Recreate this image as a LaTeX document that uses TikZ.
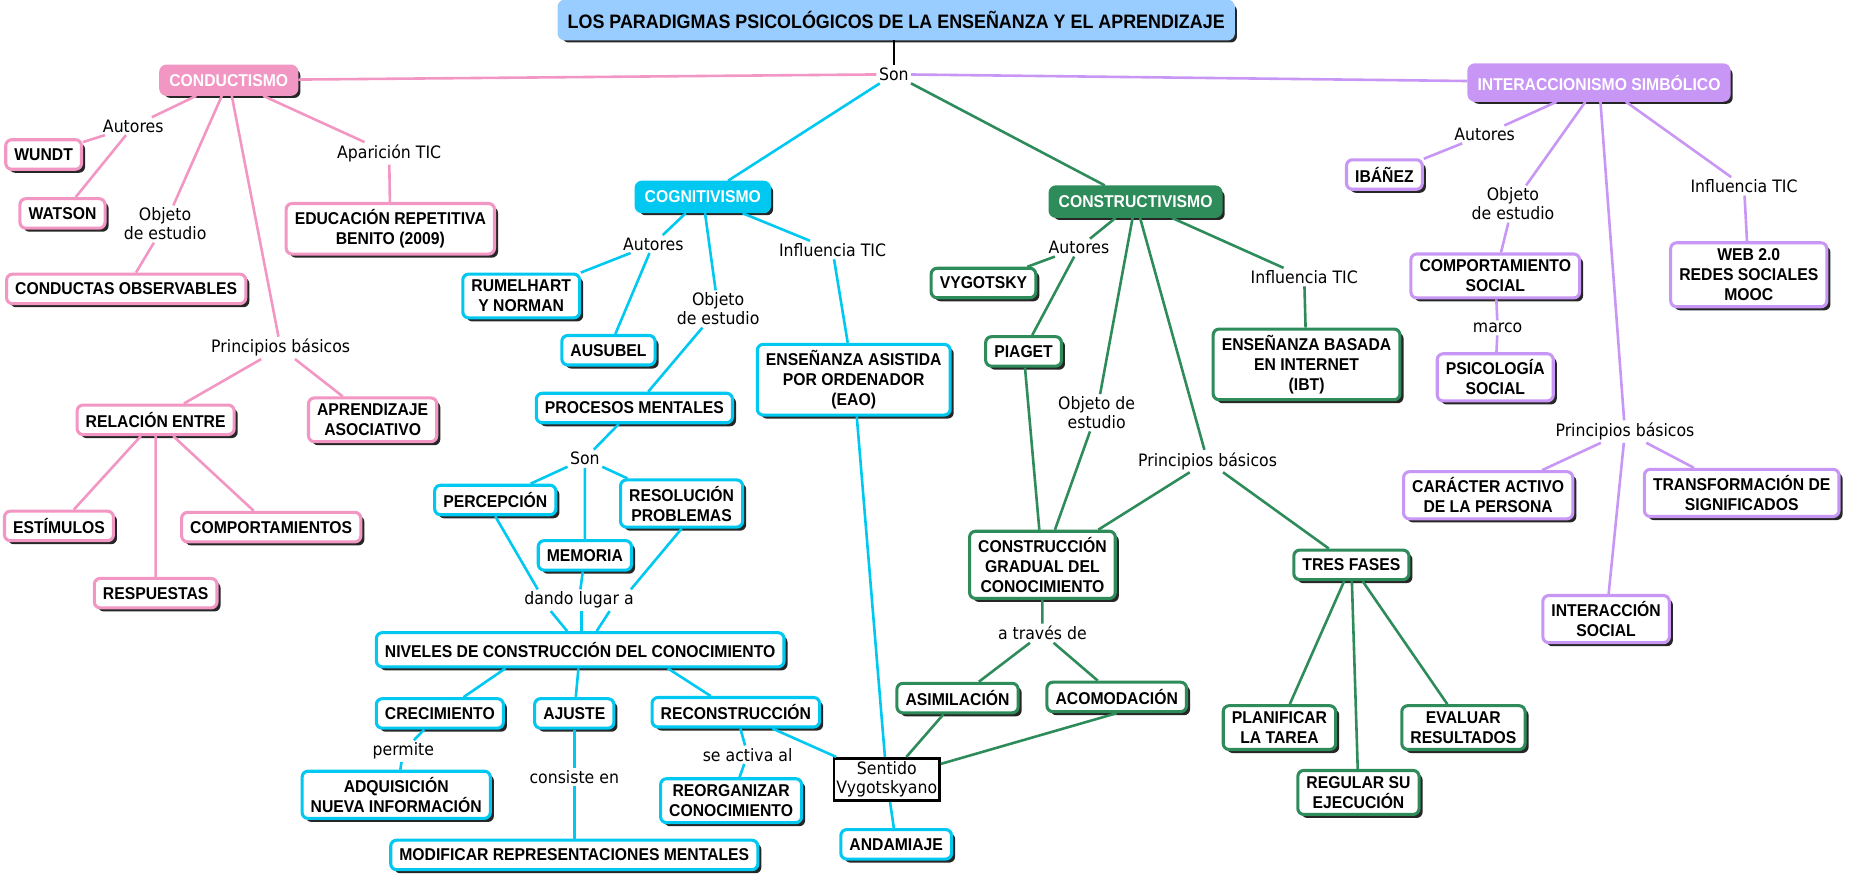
\documentclass[tikz,border=0pt]{standalone}
\usepackage{fontspec}
\usepackage{tikz}
\usetikzlibrary{shadows}

\newfontfamily\mapfont[FakeStretch=0.92]{Liberation Sans}
\newfontfamily\linkfont[FakeStretch=0.92]{DejaVu Sans}

\definecolor{pinkc}{RGB}{242,150,195}
\definecolor{cyanc}{RGB}{0,200,240}
\definecolor{greenc}{RGB}{46,139,90}
\definecolor{purplec}{RGB}{200,150,245}
\definecolor{titleblue}{RGB}{153,204,255}

\tikzset{
  concept/.style={draw=#1, fill=white, line width=2.6pt, rounded corners=5pt,
    align=center, inner xsep=7.3pt, inner ysep=5pt, minimum height=25pt,
    font=\mapfont\bfseries\fontsize{14.5}{17}\selectfont,
    drop shadow={shadow xshift=3pt, shadow yshift=-3pt, fill=black!85, opacity=1}},
  paradigm/.style={concept=#1, fill=#1, text=white},
  phrase/.style={font=\linkfont\fontsize{14.5}{16}\selectfont, align=center, inner sep=2pt},
  conn/.style={draw=#1, line width=2.2pt},
}

\begin{document}
\begin{tikzpicture}[x=1pt,y=-1pt]
    \useasboundingbox (0,0) rectangle (1568,745);

    % Title
    \node[paradigm=titleblue, text=black, minimum height=32pt,
      font=\mapfont\bfseries\fontsize{16.5}{19}\selectfont] (title) at (760,17)
      {LOS PARADIGMAS PSICOLÓGICOS DE LA ENSEÑANZA Y EL APRENDIZAJE};
    \node[phrase] (son0) at (758,63) {Son};

    % Conductismo
    \node[paradigm=pinkc, minimum height=24pt] (cond) at (194,68) {CONDUCTISMO};
    \node[phrase] (autC) at (113,107) {Autores};
    \node[concept=pinkc] (wundt) at (37,131) {WUNDT};
    \node[concept=pinkc] (watson) at (53,181) {WATSON};
    \node[phrase] (objC) at (140,190) {Objeto\\de estudio};
    \node[concept=pinkc] (condObs) at (107,245) {CONDUCTAS OBSERVABLES};
    \node[phrase] (apaC) at (330,130) {Aparición TIC};
    \node[concept=pinkc] (eduRep) at (331,194) {EDUCACIÓN REPETITIVA\\BENITO (2009)};
    \node[phrase] (prinC) at (238,295) {Principios básicos};
    \node[concept=pinkc] (relac) at (132,356) {RELACIÓN ENTRE};
    \node[concept=pinkc] (aprAs) at (316,356) {APRENDIZAJE\\ASOCIATIVO};
    \node[concept=pinkc] (estim) at (50,446) {ESTÍMULOS};
    \node[concept=pinkc] (compor) at (230,447) {COMPORTAMIENTOS};
    \node[concept=pinkc] (resp) at (132,503) {RESPUESTAS};

    % Cognitivismo
    \node[paradigm=cyanc] (cog) at (596,167) {COGNITIVISMO};
    \node[phrase] (autG) at (554,207) {Autores};
    \node[concept=cyanc] (rumel) at (442,251) {RUMELHART\\Y NORMAN};
    \node[concept=cyanc] (ausub) at (516,297) {AUSUBEL};
    \node[phrase] (objG) at (609,262) {Objeto\\de estudio};
    \node[concept=cyanc] (procM) at (538,346) {PROCESOS MENTALES};
    \node[phrase] (infG) at (706,212) {Influencia TIC};
    \node[concept=cyanc] (eao) at (724,322) {ENSEÑANZA ASISTIDA\\POR ORDENADOR\\(EAO)};
    \node[phrase] (sonG) at (496,389) {Son};
    \node[concept=cyanc] (percep) at (420,424) {PERCEPCIÓN};
    \node[concept=cyanc] (resol) at (578,427) {RESOLUCIÓN\\PROBLEMAS};
    \node[concept=cyanc] (memo) at (496,471) {MEMORIA};
    \node[phrase] (dando) at (491,509) {dando lugar a};
    \node[concept=cyanc, minimum height=29pt] (nivel) at (492,551) {NIVELES DE CONSTRUCCIÓN DEL CONOCIMIENTO};
    \node[concept=cyanc] (crec) at (373,605) {CRECIMIENTO};
    \node[concept=cyanc] (ajuste) at (487,605) {AJUSTE};
    \node[concept=cyanc] (recon) at (624,604) {RECONSTRUCCIÓN};
    \node[phrase] (permite) at (342,637) {permite};
    \node[concept=cyanc] (adq) at (336,674) {ADQUISICIÓN\\NUEVA INFORMACIÓN};
    \node[phrase] (consis) at (487,659) {consiste en};
    \node[concept=cyanc] (modif) at (487,725) {MODIFICAR REPRESENTACIONES MENTALES};
    \node[phrase] (activa) at (634,640) {se activa al};
    \node[concept=cyanc] (reorg) at (620,679) {REORGANIZAR\\CONOCIMIENTO};
    \node[phrase, draw=black, line width=2.2pt, inner xsep=2pt, inner ysep=3pt] (sentido) at (752,661) {Sentido\\Vygotskyano};
    \node[concept=cyanc] (andam) at (760,716) {ANDAMIAJE};

    % Constructivismo
    \node[paradigm=greenc] (cons) at (963,171) {CONSTRUCTIVISMO};
    \node[phrase] (autK) at (915,210) {Autores};
    \node[concept=greenc] (vygot) at (834,240) {VYGOTSKY};
    \node[concept=greenc] (piaget) at (868,298) {PIAGET};
    \node[phrase] (objK) at (930,350) {Objeto de\\estudio};
    \node[phrase] (prinK) at (1024,391) {Principios básicos};
    \node[phrase] (infK) at (1106,235) {Influencia TIC};
    \node[concept=greenc] (ibt) at (1108,309) {ENSEÑANZA BASADA\\EN INTERNET\\(IBT)};
    \node[concept=greenc] (constr) at (884,479) {CONSTRUCCIÓN\\GRADUAL DEL\\CONOCIMIENTO};
    \node[phrase] (traves) at (884,537) {a través de};
    \node[concept=greenc] (asim) at (812,592) {ASIMILACIÓN};
    \node[concept=greenc] (acom) at (947,591) {ACOMODACIÓN};
    \node[concept=greenc] (tres) at (1146,479) {TRES FASES};
    \node[concept=greenc] (planif) at (1085,617) {PLANIFICAR\\LA TAREA};
    \node[concept=greenc] (regul) at (1152,672) {REGULAR SU\\EJECUCIÓN};
    \node[concept=greenc] (evalu) at (1241,617) {EVALUAR\\RESULTADOS};

    % Interaccionismo simbolico
    \node[paradigm=purplec, minimum height=30pt] (inter) at (1356,70) {INTERACCIONISMO SIMBÓLICO};
    \node[phrase] (autI) at (1259,114) {Autores};
    \node[concept=purplec] (ibanez) at (1174,148) {IBÁÑEZ};
    \node[phrase] (objI) at (1283,173) {Objeto\\de estudio};
    \node[concept=purplec] (compS) at (1268,234) {COMPORTAMIENTO\\SOCIAL};
    \node[phrase] (marco) at (1270,278) {marco};
    \node[concept=purplec] (psico) at (1268,320) {PSICOLOGÍA\\SOCIAL};
    \node[phrase] (infI) at (1479,158) {Influencia TIC};
    \node[concept=purplec] (web) at (1483,233) {WEB 2.0\\REDES SOCIALES\\MOOC};
    \node[phrase] (prinI) at (1378,366) {Principios básicos};
    \node[concept=purplec] (carac) at (1262,420) {CARÁCTER ACTIVO\\DE LA PERSONA};
    \node[concept=purplec] (transf) at (1477,418) {TRANSFORMACIÓN DE\\SIGNIFICADOS};
    \node[concept=purplec] (interS) at (1362,525) {INTERACCIÓN\\SOCIAL};

    % Connectors
    \draw[conn=black] (title.south -| son0) -- (son0);

    \draw[conn=pinkc] (son0) -- (cond);
    \draw[conn=pinkc] (cond) -- (autC) (autC) -- (wundt) (autC) -- (watson);
    \draw[conn=pinkc] (cond) -- (objC) (objC) -- (condObs);
    \draw[conn=pinkc] (cond) -- (apaC) (apaC) -- (eduRep);
    \draw[conn=pinkc] (cond) -- (prinC) (prinC) -- (relac) (prinC) -- (aprAs);
    \draw[conn=pinkc] (relac) -- (estim) (relac) -- (compor) (relac) -- (resp);

    \draw[conn=cyanc] (son0) -- (cog);
    \draw[conn=cyanc] (cog) -- (autG) (autG) -- (rumel) (autG) -- (ausub);
    \draw[conn=cyanc] (cog) -- (objG) (objG) -- (procM);
    \draw[conn=cyanc] (cog) -- (infG) (infG) -- (eao);
    \draw[conn=cyanc] (procM) -- (sonG) (sonG) -- (percep) (sonG) -- (memo) (sonG) -- (resol);
    \draw[conn=cyanc] (percep.south) -- ([xshift=-35pt]dando.north);
    \draw[conn=cyanc] (memo) -- (dando);
    \draw[conn=cyanc] (resol.south) -- ([xshift=44pt]dando.north);
    \draw[conn=cyanc] ([xshift=-24pt]dando.south) -- ([xshift=-11pt]nivel.north);
    \draw[conn=cyanc] ([xshift=2pt]dando.south) -- ([xshift=1pt]nivel.north);
    \draw[conn=cyanc] ([xshift=26pt]dando.south) -- ([xshift=14pt]nivel.north);
    \draw[conn=cyanc] (nivel.-166) -- (crec) (nivel) -- (ajuste) (nivel.-12) -- (recon);
    \draw[conn=cyanc] (crec) -- (permite) (permite) -- (adq);
    \draw[conn=cyanc] (ajuste) -- (consis) (consis) -- (modif);
    \draw[conn=cyanc] (recon) -- (activa) (activa) -- (reorg);
    \draw[conn=cyanc] (recon) -- (sentido);
    \draw[conn=cyanc] (eao) -- (sentido) (sentido) -- (andam);

    \draw[conn=greenc] (son0) -- (cons);
    \draw[conn=greenc] (cons) -- (autK) (autK) -- (vygot) (autK) -- (piaget);
    \draw[conn=greenc] (cons) -- (objK) (objK) -- (constr);
    \draw[conn=greenc] (cons) -- (prinK) (prinK) -- (constr) (prinK) -- (tres);
    \draw[conn=greenc] (cons) -- (infK) (infK) -- (ibt);
    \draw[conn=greenc] (piaget) -- (constr);
    \draw[conn=greenc] (constr) -- (traves) (traves) -- (asim) (traves) -- (acom);
    \draw[conn=greenc] (asim) -- (sentido) (acom.south) -- (sentido);
    \draw[conn=greenc] (tres) -- (planif) (tres) -- (regul) (tres) -- (evalu);

    \draw[conn=purplec] (son0) -- (inter);
    \draw[conn=purplec] (inter) -- (autI) (autI) -- (ibanez);
    \draw[conn=purplec] (inter) -- (objI) (objI) -- (compS);
    \draw[conn=purplec] (compS) -- (marco) (marco) -- (psico);
    \draw[conn=purplec] (inter) -- (infI) (infI) -- (web);
    \draw[conn=purplec] (inter) -- (prinI) (prinI) -- (carac) (prinI) -- (transf) (prinI) -- (interS);
\end{tikzpicture}
\end{document}
